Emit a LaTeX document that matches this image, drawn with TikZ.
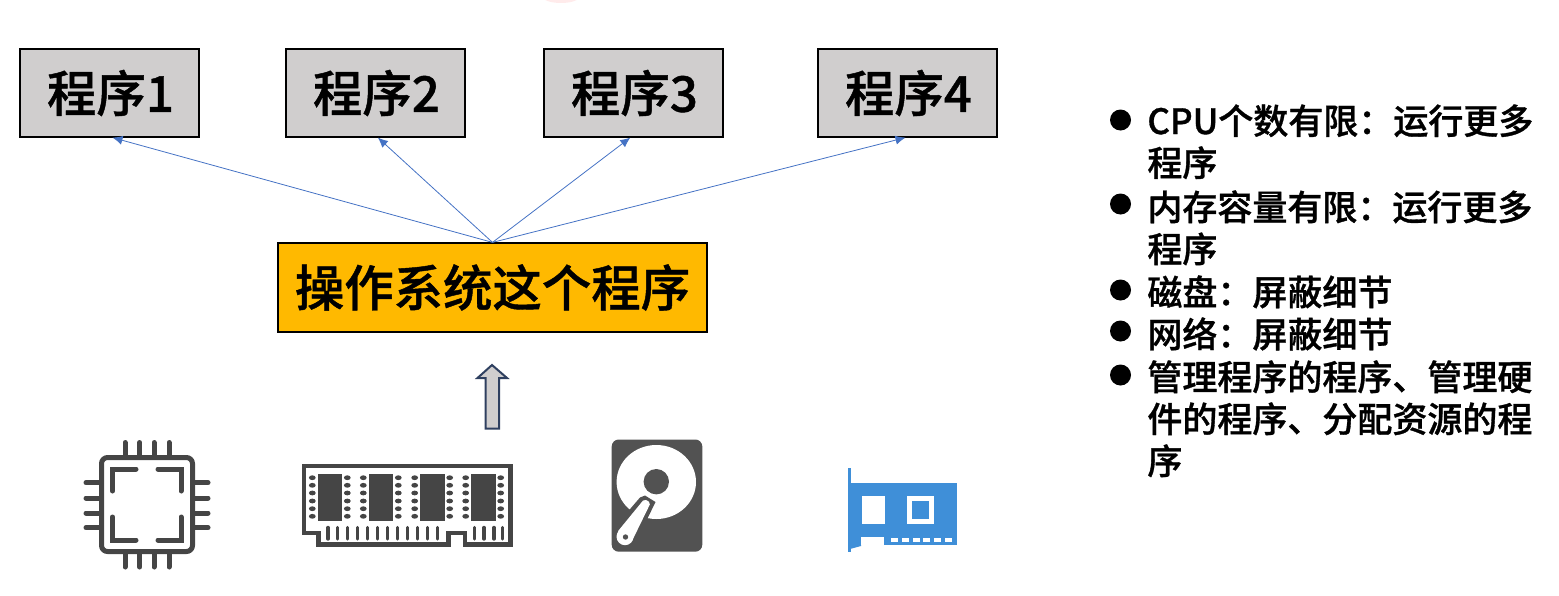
\documentclass[tikz,border=0pt]{standalone}
\usepackage{fontspec}
\setmainfont{Noto Sans CJK SC}
\newfontfamily\cjkb[FakeBold=0.9]{Noto Sans CJK SC Medium}
\newfontfamily\cjkm[FakeBold=0.9]{Noto Sans CJK SC Medium}
\definecolor{boxgray}{HTML}{D0CECE}
\definecolor{osgold}{HTML}{FFB900}
\definecolor{linkblue}{HTML}{4472C4}
\definecolor{icondark}{HTML}{454545}
\definecolor{hdddark}{HTML}{525252}
\definecolor{nicblue}{HTML}{3F8FD8}
\definecolor{arrowedge}{HTML}{2F4060}
\tikzset{
  progbox/.style={draw=black,line width=0.6pt,fill=boxgray,minimum width=89.5pt,minimum height=44pt,inner sep=0pt,font=\cjkb\fontsize{24.7pt}{28pt}\selectfont},
  osbox/.style={draw=black,line width=0.6pt,fill=osgold,minimum width=214.5pt,minimum height=44.5pt,inner sep=0pt,font=\cjkb\fontsize{24.7pt}{28pt}\selectfont},
  link/.style={draw=linkblue,line width=0.4pt,-{Latex[length=5pt,width=4.5pt]}},
  bulletdot/.style={circle,fill=black,minimum size=10.5pt,inner sep=0pt},
  listtext/.style={anchor=north west,inner sep=0pt,align=left,font=\cjkm\fontsize{17.5pt}{21pt}\selectfont,text=black},
  pinline/.style={draw=icondark,line width=2.5pt,line cap=round,line join=round},
  cpuline/.style={draw=icondark,line width=2.5pt,line cap=round,line join=miter},
}
\usetikzlibrary{arrows.meta}
\begin{document}
\begin{tikzpicture}[x=0.5pt,y=-0.5pt]
\useasboundingbox (0,0) rectangle (1559,595);
\fill[red!8] (561,-3) ellipse (18 and 6);
% program boxes
\node[progbox] (p1) at (109.5,93) {\raisebox{-1.5pt}{\hspace{1pt}程序1}};
\node[progbox] (p2) at (375.5,93) {\raisebox{-1.5pt}{\hspace{1pt}程序2}};
\node[progbox] (p3) at (633.5,93) {\raisebox{-1.5pt}{\hspace{1pt}程序3}};
\node[progbox] (p4) at (907.5,93) {\raisebox{-1.5pt}{\hspace{1pt}程序4}};
\node[osbox] (os) at (492.5,287.5) {\raisebox{-1.5pt}{操作系统这个程序}};
\draw[link] (os.north) -- ([xshift=1.5pt]p1.south);
\draw[link] (os.north) -- ([xshift=1.2pt]p2.south);
\draw[link] (os.north) -- ([xshift=-1.6pt]p3.south);
\draw[link] (os.north) -- ([xshift=-1pt]p4.south);
% hollow arrow
\coordinate (hwtip) at (492,365);
\draw[arrowedge,fill=boxgray,line width=1pt,line join=miter]
  (hwtip) -- (507,378) -- (499,378) -- (499,428.5) -- (485.5,428.5) -- (485.5,378) -- (477.5,378) -- cycle;
% CPU
\draw[pinline,rounded corners=3pt] (101.5,457.5) rectangle (192.5,551.5);
\foreach \x in {125,139.7,154,169}{
  \draw[pinline] (\x,442.5) -- (\x,455);
  \draw[pinline] (\x,554) -- (\x,567);
}
\foreach \y in {482.7,498,513,527.7}{
  \draw[pinline] (86,\y) -- (99,\y);
  \draw[pinline] (195,\y) -- (208,\y);
}
\draw[cpuline] (112.5,491) -- (112.5,469) -- (136,469);
\draw[cpuline] (158,469) -- (181,469) -- (181,491);
\draw[cpuline] (112.5,517) -- (112.5,540) -- (136,540);
\draw[cpuline] (158,540) -- (181,540) -- (181,517);
% RAM
\draw[icondark,line width=2.4pt,line join=miter]
  (304,466) -- (510.5,466) -- (510.5,544.5) -- (465,544.5) -- (465,533) -- (448.3,533) -- (448.3,544.5) -- (318.3,544.5) -- (318.3,533) -- (304,533) -- cycle;
\foreach \x in {318,369,420.3,471.3}{
  \fill[icondark] (\x,473.5) rectangle +(24.4,47.2);
}
\foreach \x in {312.3,347.3,363.3,398.3,414.7,449.7,465.7,500.7}{
  \foreach \y in {477.7,485.3,493,501,508.7,516.3}{
    \fill[icondark] (\x,\y) ellipse (3.4 and 2.4);
  }
}
\foreach \x in {328,337.7,347.7,357.7,367.7,377.3,387.3,397.3,407.3,417.3,427.3,437.3,474.3,484,494,502.7}{
  \draw[icondark,line width=1.7pt,line cap=round] (\x,527.5) -- (\x,539);
}
% HDD
\fill[hdddark,rounded corners=3.5pt] (611.7,439.5) rectangle (702.3,551.7);
\fill[white] (656.3,482) ellipse (39.7 and 37);
\fill[hdddark] (656.3,481.7) circle (12.7);
\fill[hdddark] (640,497.5) -- (645,495.5) -- (655.5,502) -- (637,540) -- (612,530) -- cycle;
\fill[white,rounded corners=1pt] (644.3,499) -- (650.7,502.7) -- (632,541) -- (617.3,532) -- cycle;
\fill[white] (625,536.7) circle (8.5);
\fill[hdddark] (625.5,537) circle (2.7);
% NIC
\fill[nicblue] (847.7,467.7) rectangle (850.7,551.7);
\fill[nicblue] (850.7,483) rectangle (957,544.5);
\fill[nicblue] (850,544) -- (861,544) -- (861,546) -- (850,549) -- cycle;
\fill[white] (861,536.7) rectangle (884,545);
\fill[white] (861.7,495.7) rectangle (884.7,524);
\fill[white] (907.3,495.7) rectangle (934.3,524);
\fill[nicblue] (912,501) rectangle (929.3,519);
\foreach \x in {891,902,912.5,923,933.5,945}{
  \fill[white] (\x,537.7) rectangle +(7,4);
}
% list
\node[bulletdot] (b1) at (1120.5,120) {};
\node[bulletdot] (b2) at (1120.5,204) {};
\node[bulletdot] (b3) at (1120.5,290) {};
\node[bulletdot] (b4) at (1120.5,331) {};
\node[bulletdot] (b5) at (1120.5,375) {};
\node[listtext] (t1) at (1147,104) {CPU个数有限：运行更多\\程序};
\node[listtext] (t2) at (1147,190) {内存容量有限：运行更多\\程序};
\node[listtext] (t3) at (1147,275) {磁盘：屏蔽细节};
\node[listtext] (t4) at (1147,317) {网络：屏蔽细节};
\node[listtext] (t5) at (1147,360) {管理程序的程序、管理硬\\件的程序、分配资源的程\\序};
\end{tikzpicture}
\end{document}
